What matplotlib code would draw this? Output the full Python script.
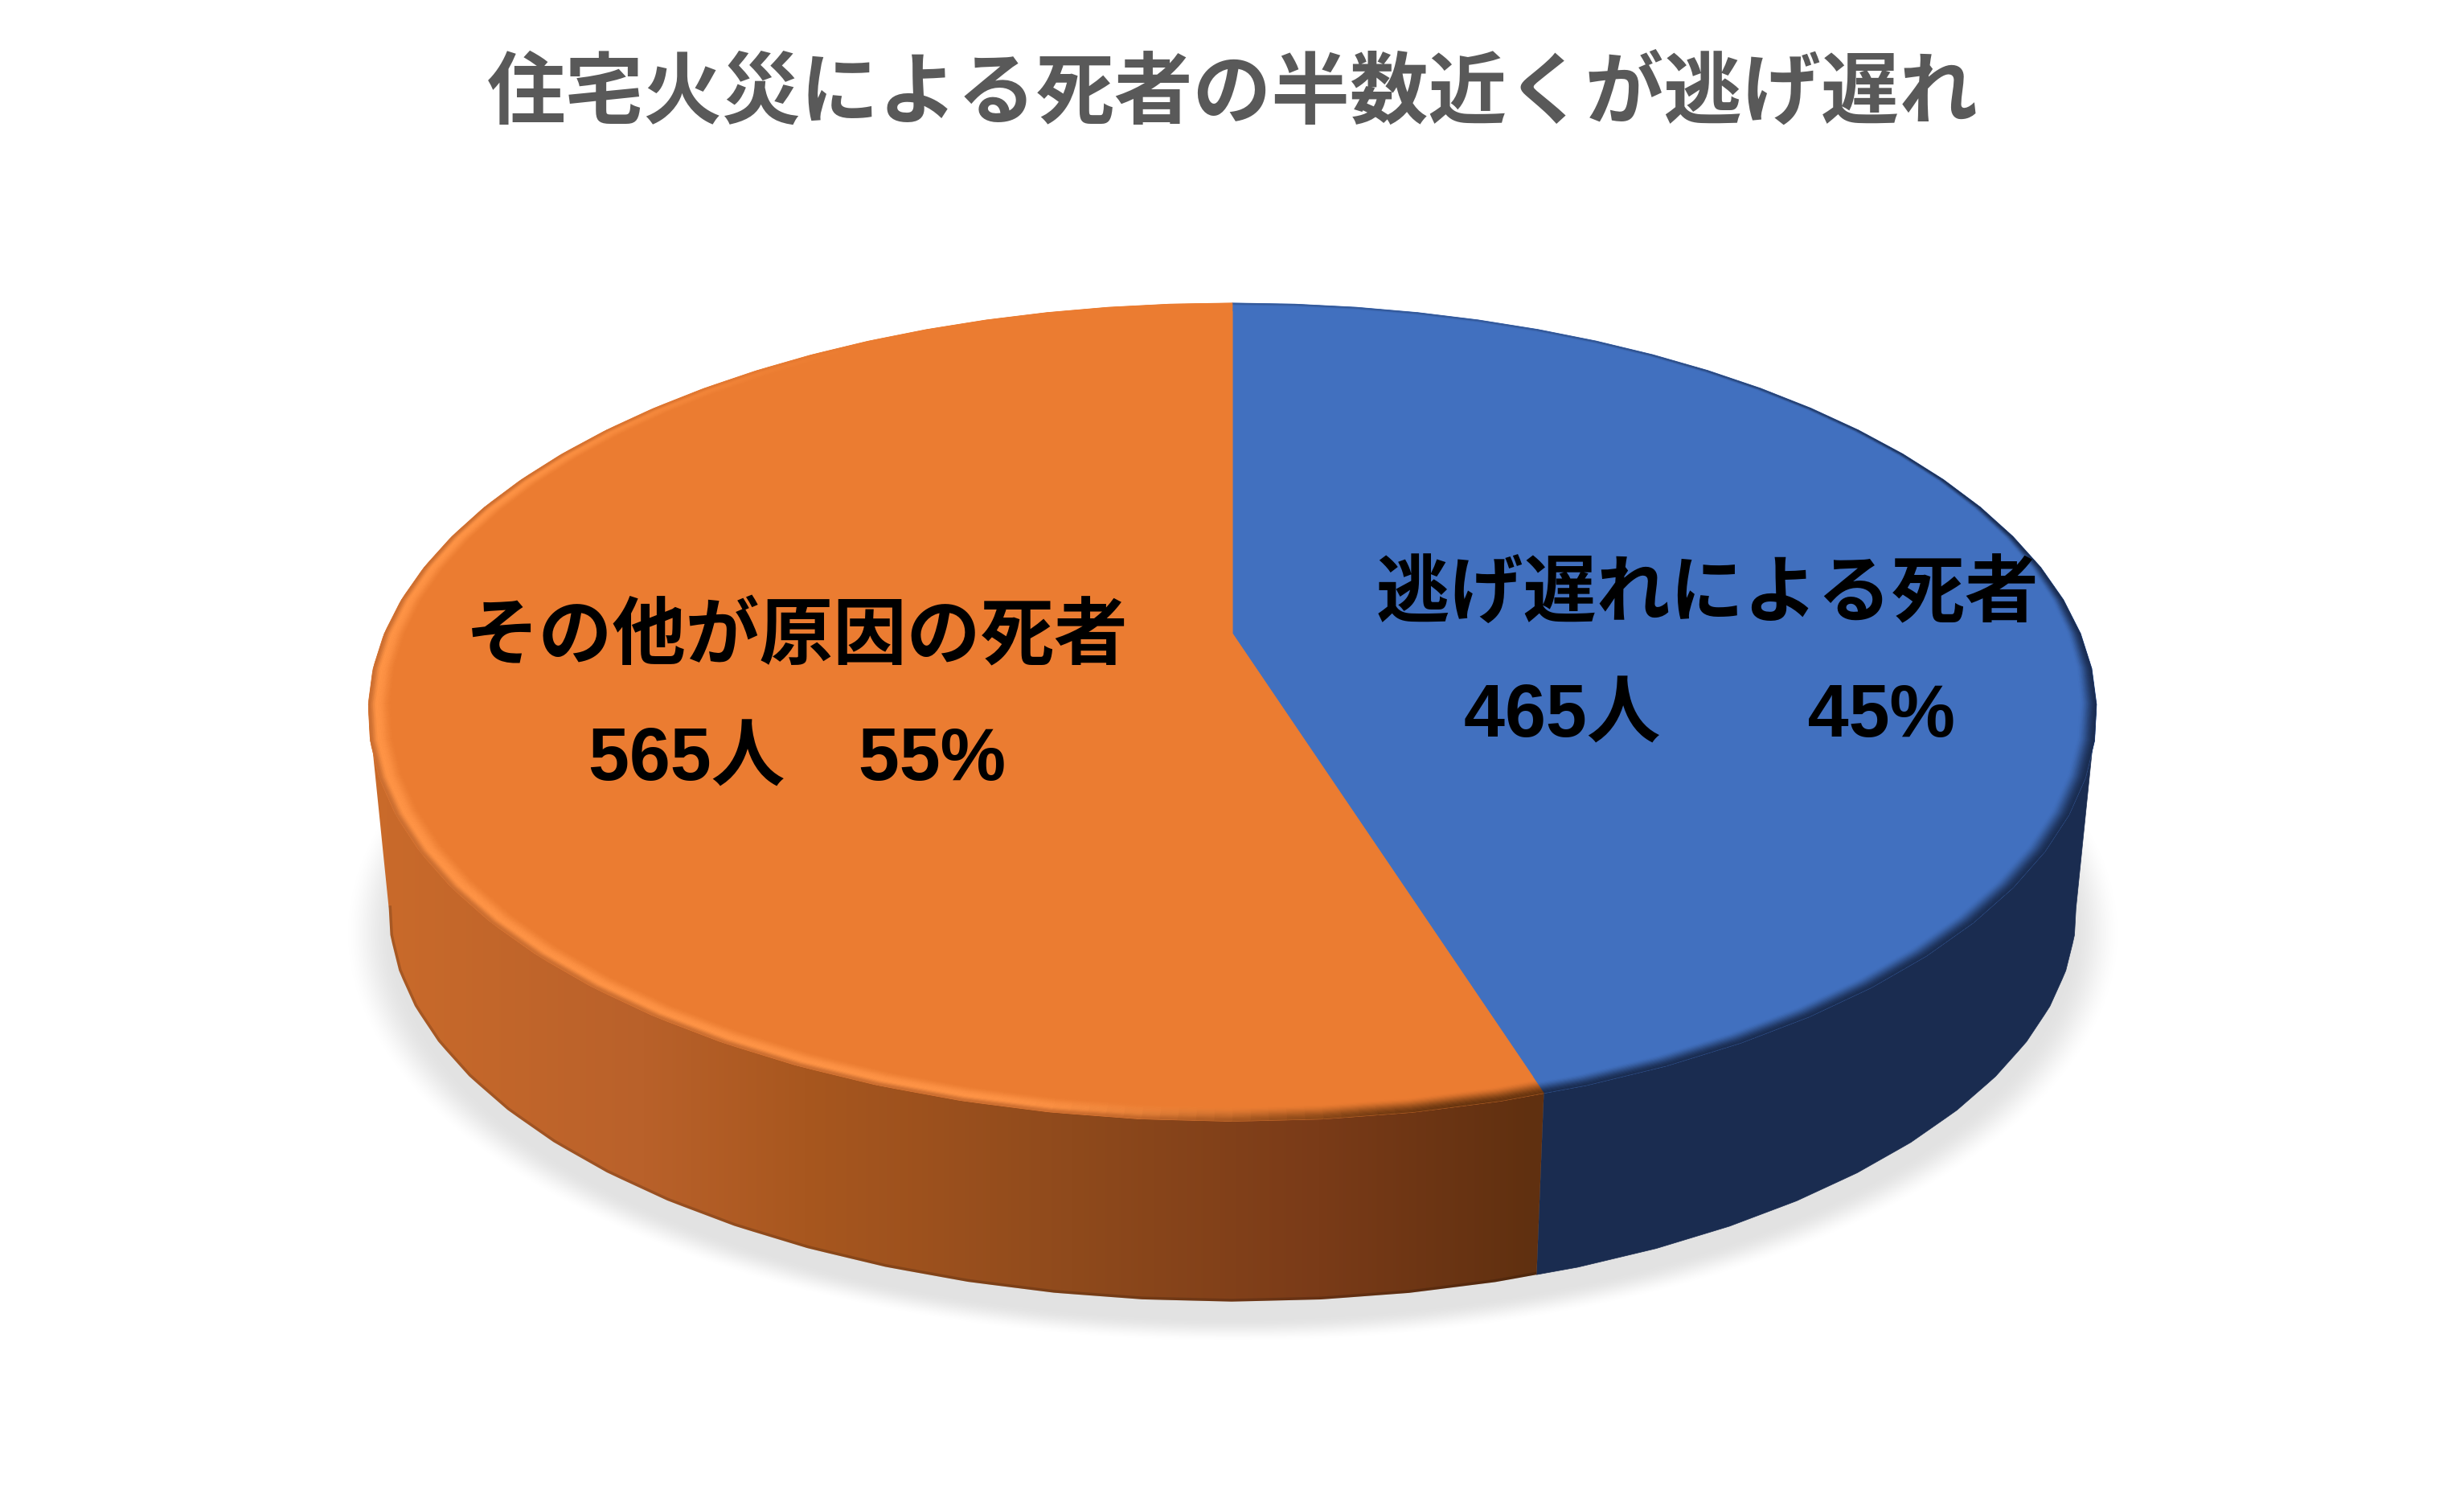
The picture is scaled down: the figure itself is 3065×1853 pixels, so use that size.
import numpy as np
import matplotlib
matplotlib.use("Agg")
import matplotlib.pyplot as plt
from matplotlib.patches import Polygon
from matplotlib.collections import PolyCollection
from matplotlib.colors import to_rgb

plt.rcParams['font.family'] = ['Liberation Sans', 'Noto Sans CJK JP', 'DejaVu Sans']

title = "住宅火災による死者の半数近くが逃げ遅れ"
categories = ["逃げ遅れによる死者", "その他が原因の死者"]
deaths = [465, 565]
percent = [45, 55]
value_labels = ["465人　　45%", "565人　55%"]
face_colors = ["#4170BF", "#EB7C31"]
blue_side = "#1A2C50"
grad_x = [480, 800, 1000, 1333, 1640, 1906]
grad_c = ["#C96A2A", "#B9612A", "#A8571F", "#8F4A1C", "#7A3B18", "#603010"]

W, H = 3065, 1853
fig = plt.figure(figsize=(W / 100, H / 100), dpi=100, facecolor="white")
ax = fig.add_axes([0, 0, 1, 1])
ax.set_xlim(0, W)
ax.set_ylim(H, 0)
ax.set_axis_off()

# perspective projection of a unit disc
CX = 1533
K = 0.192
TOP = dict(A=1075 * np.sqrt(1 - K ** 2), B=411 * (1 + K), Y=788)
LOW = dict(A=1050 * np.sqrt(1 - K ** 2), B=395 * (1 + K), Y=1036)
grid = np.radians(np.arange(0, 361, 5))


def project(phi_deg, plane, r=1.0):
    p = np.radians(np.asarray(phi_deg, float))
    u = np.interp(p, grid, np.sin(grid)) * r
    v = np.interp(p, grid, np.cos(grid)) * r
    w = 1 + K * v
    return np.column_stack([CX + plane["A"] * u / w, plane["Y"] - plane["B"] * v / w])


def arc(a, b, step=5.0):
    n = max(2, int(abs(b - a) / step * 4) + 1)
    return np.linspace(a, b, n)


total = sum(deaths)
split = 360.0 * deaths[0] / total
X_EXT_R = np.degrees(np.arccos(-K))
X_EXT_L = 360 - X_EXT_R

# soft shadow
yy, xx = np.mgrid[950:1740, 380:2700]
d = np.sqrt(((xx - CX) / 1108.0) ** 2 + ((yy - 1160) / 510.0) ** 2)
t = np.clip((1 - d) / 0.06, 0, 1)
alpha = t * t * (3 - 2 * t) * 0.115
rgba = np.zeros(xx.shape + (4,))
rgba[..., 3] = alpha
ax.imshow(rgba, extent=[380, 2700, 1740, 950], aspect="auto", interpolation="bilinear", zorder=1)

# side walls
phis = arc(X_EXT_R, split)
blue_poly = np.vstack([project(phis, TOP), project(phis[::-1], LOW)])
ax.add_patch(Polygon(blue_poly, closed=True, fc=blue_side, ec=blue_side, lw=0.5, zorder=2))

phis = arc(split, X_EXT_L)
org_poly = np.vstack([project(phis, TOP), project(phis[::-1], LOW)])
gx = np.arange(440, 1940)
ramp = np.array([to_rgb(c) for c in grad_c])
grad = np.column_stack([np.interp(gx, grad_x, ramp[:, i]) for i in range(3)])[None, ...]
clip = Polygon(org_poly, closed=True, transform=ax.transData, fc="none", ec="none")
ax.add_patch(clip)
im = ax.imshow(grad, extent=[440, 1940, 1700, 800], aspect="auto", zorder=2)
im.set_clip_path(clip)
edge = ax.plot(*project(phis, LOW).T, color="#000000", alpha=0.16, lw=5, zorder=3)[0]
edge.set_clip_path(clip)

# flat top faces
for a, b, col in [(0, split, face_colors[0]), (split, 360, face_colors[1])]:
    pts = np.vstack([[[CX, TOP["Y"]]], project(arc(a, b), TOP)])
    ax.add_patch(Polygon(pts, closed=True, fc=col, ec=col, lw=0.8, zorder=4))


# bevel along the rim
def smooth(x):
    x = np.clip(x, 0, 1)
    return x * x * (3 - 2 * x)


radii = np.linspace(0.972, 1.0, 19)
polys, cols = [], []
blue = np.array(to_rgb(face_colors[0]))
bdark = np.array(to_rgb(blue_side))
org = np.array(to_rgb(face_colors[1]))
bright = np.array(to_rgb("#FF9446"))
oside = np.array(to_rgb("#B9612A"))
odark = np.array(to_rgb("#66340F"))
edges = np.unique(np.append(np.arange(0, 361, 1.0), split))
for a, b in zip(edges[:-1], edges[1:]):
    m = (a + b) / 2
    for r0, r1 in zip(radii[:-1], radii[1:]):
        rm = (r0 + r1) / 2
        if m < split:
            s = 0.35 + 0.65 * smooth((m - 20) / 50)
            lo = 0.992 - 0.012 * smooth((m - 60) / 50)
            w = smooth((rm - lo) / (1.0 - lo)) * s
            c = blue * (1 - w) + bdark * w
        else:
            h = smooth((m - split - 8) / 25) * (1 - smooth((m - 285) / 50))
            dk = 1 - smooth((m - split - 4) / 26)
            w = smooth((rm - 0.974) / 0.016)
            c = org * (1 - w) + bright * w
            w3 = smooth((rm - 0.991) / 0.009) * 0.75
            c = c * (1 - w3) + oside * w3
            c = org * (1 - h) + c * h
            w2 = smooth((rm - 0.976) / 0.024) * dk
            c = c * (1 - w2) + odark * w2
        q = np.vstack([project([a, b], TOP, r0), project([b, a], TOP, r1)])
        polys.append(q)
        cols.append(c)
ax.add_collection(PolyCollection(polys, facecolors=cols, edgecolors=cols, linewidths=0.4, zorder=5))

# restate the limits after imshow
ax.set_xlim(0, W)
ax.set_ylim(H, 0)

FS_T = 70.3
FS_L = 66
ax.text(1533, 119, title, fontsize=FS_T, fontweight="bold", color="#595959",
        ha="center", va="center", zorder=6)
ax.text(2124, 741, categories[0], fontsize=FS_L, fontweight="bold", color="black",
        ha="center", va="center", zorder=6)
ax.text(2126, 893, value_labels[0], fontsize=FS_L, fontweight="bold", color="black",
        ha="center", va="center", zorder=6)
ax.text(991, 794, categories[1], fontsize=FS_L, fontweight="bold", color="black",
        ha="center", va="center", zorder=6)
ax.text(991, 947, value_labels[1], fontsize=FS_L, fontweight="bold", color="black",
        ha="center", va="center", zorder=6)

fig.savefig("out.png", dpi=100, facecolor="white")
